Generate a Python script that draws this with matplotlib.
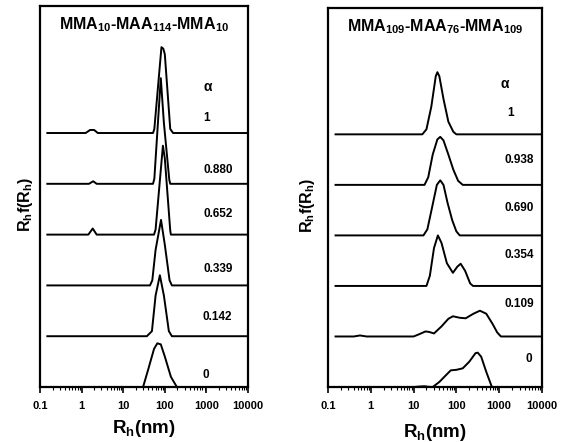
import numpy as np
import matplotlib as mpl
mpl.use('Agg')
import matplotlib.pyplot as plt
from matplotlib.ticker import LogLocator, NullFormatter, FixedFormatter, FixedLocator

plt.rcParams['font.family'] = ['Liberation Sans', 'DejaVu Sans']
plt.rcParams['font.weight'] = 'bold'
plt.rcParams['mathtext.fontset'] = 'custom'
plt.rcParams['mathtext.rm'] = 'Liberation Sans:bold'
plt.rcParams['mathtext.it'] = 'Liberation Sans:bold'
plt.rcParams['mathtext.bf'] = 'Liberation Sans:bold'

# --- left block copolymer: MMA10-MAA114-MMA10 ---
left_alpha = ['1', '0.880', '0.652', '0.339', '0.142', '0']
left_rh = [
    [0.15, 1.25, 1.6, 2.0, 2.45, 52, 56, 83, 92, 100, 135, 158, 10000],
    [0.15, 1.5, 1.9, 2.3, 52, 56, 80, 95, 128, 135, 10000],
    [0.15, 1.45, 1.85, 2.3, 55, 60, 90, 100, 135, 140, 10000],
    [0.15, 44, 50, 60, 81, 100, 130, 148, 10000],
    [0.15, 37, 49, 60, 76, 95, 125, 148, 10000],
    [30, 40, 55, 66, 80, 100, 140, 195],
]
left_f = [
    [0, 0, 0.06, 0.06, 0, 0, 0.08, 1.69, 1.66, 1.55, 0.08, 0, 0],
    [0, 0, 0.05, 0, 0, 0.1, 2.08, 1.2, 0.08, 0, 0],
    [0, 0, 0.12, 0, 0, 0.1, 1.75, 1.5, 0.08, 0, 0],
    [0, 0, 0.1, 0.7, 1.29, 0.8, 0.1, 0, 0],
    [0, 0, 0.1, 0.8, 1.2, 0.8, 0.1, 0, 0],
    [0, 0.35, 0.75, 0.86, 0.84, 0.6, 0.2, 0],
]

# --- right block copolymer: MMA109-MAA76-MMA109 ---
right_alpha = ['1', '0.938', '0.690', '0.354', '0.109', '0']
right_rh = [
    [0.15, 16, 20, 26, 33, 36, 40, 50, 65, 85, 100, 10000],
    [0.15, 18, 22, 28, 36, 42, 50, 65, 85, 110, 141, 10000],
    [0.15, 17, 21, 27, 35, 42, 50, 62, 80, 100, 120, 10000],
    [0.15, 20, 24, 30, 37, 45, 60, 83, 105, 126, 160, 210, 245, 10000],
    [0.15, 0.4, 0.56, 0.8, 10, 14, 19, 23, 30, 45, 65, 83, 120, 165, 250,
     355, 500, 700, 900, 1100, 10000],
    [10, 14, 18, 22, 28, 40, 55, 74, 100, 141, 200, 280, 316, 380, 500, 676],
]
right_f = [
    [0, 0, 0.1, 0.55, 1.15, 1.23, 1.15, 0.7, 0.25, 0.05, 0, 0],
    [0, 0, 0.15, 0.6, 0.9, 0.95, 0.88, 0.6, 0.3, 0.08, 0, 0],
    [0, 0, 0.12, 0.55, 1.0, 1.09, 1.0, 0.65, 0.3, 0.08, 0, 0],
    [0, 0, 0.2, 0.75, 1.0, 0.85, 0.45, 0.26, 0.38, 0.44, 0.3, 0.05, 0, 0],
    [0, 0, 0.02, 0, 0, 0.05, 0.1, 0.09, 0.06, 0.2, 0.35, 0.4, 0.37, 0.36,
     0.45, 0.51, 0.45, 0.25, 0.08, 0, 0],
    [0, 0.01, 0.015, 0.005, 0, 0.1, 0.22, 0.33, 0.34, 0.37, 0.5, 0.67, 0.68,
     0.6, 0.3, 0],
]

xticks = [0.1, 1, 10, 100, 1000, 10000]
xticklabels = ['0.1', '1', '10', '100', '1000', '10000']

fig = plt.figure(figsize=(5.66, 4.42), dpi=100)


def panel(rect, rh_list, f_list, alphas, title, label_x, label_y, alpha_pos):
    ax = fig.add_axes(rect)
    n = len(rh_list)
    for i, (rh, f) in enumerate(zip(rh_list, f_list)):
        offset = n - 1 - i
        ax.plot(rh, np.array(f) + offset, color='black', lw=1.4,
                solid_joinstyle='round', clip_on=False)
    ax.set_xscale('log')
    ax.set_xlim(0.1, 10000)
    ax.set_ylim(0, 7.5)
    ax.xaxis.set_major_locator(FixedLocator(xticks))
    ax.xaxis.set_major_formatter(FixedFormatter(xticklabels))
    ax.xaxis.set_minor_locator(LogLocator(base=10, subs=np.arange(2, 10)))
    ax.xaxis.set_minor_formatter(NullFormatter())
    ax.set_yticks([])
    ax.tick_params(axis='x', which='major', direction='out', length=4,
                   width=1.2, labelsize=8, pad=6)
    ax.tick_params(axis='x', which='minor', direction='out', length=2,
                   width=0.8)
    for s in ax.spines.values():
        s.set_linewidth(1.6)
    ax.text(0.5, 0.95, title, transform=ax.transAxes, ha='center',
            va='center', fontsize=11.5, fontweight='bold')
    ax.set_xlabel('R$_h$(nm)', fontsize=13.5, fontweight='bold')
    ax.xaxis.set_label_coords(0.5, label_x)
    ax.set_ylabel('R$_h$f(R$_h$)', fontsize=11.5, fontweight='bold')
    ax.yaxis.set_label_coords(label_y, 0.48)
    ax.text(alpha_pos[0][0], alpha_pos[0][1], '\u03b1', transform=ax.transAxes,
            ha='left', va='center', fontsize=10, fontweight='bold')
    for (x, y), a in zip(alpha_pos[1:], alphas):
        ax.text(x, y, a, transform=ax.transAxes, ha='left', va='center',
                fontsize=8.5, fontweight='bold')
    return ax


# label positions (axes fraction)
left_pos = [(0.785, 0.787), (0.786, 0.706), (0.784, 0.570), (0.784, 0.454),
            (0.784, 0.310), (0.779, 0.184), (0.779, 0.031)]
right_pos = [(0.808, 0.799), (0.836, 0.723), (0.823, 0.599), (0.823, 0.472),
             (0.823, 0.348), (0.823, 0.219), (0.921, 0.074)]

panel([0.0707, 0.1244, 0.3675, 0.862], left_rh, left_f, left_alpha,
      'MMA$_{10}$-MAA$_{114}$-MMA$_{10}$', -0.082, -0.024, left_pos)
panel([0.5795, 0.1244, 0.378, 0.8575], right_rh, right_f, right_alpha,
      'MMA$_{109}$-MAA$_{76}$-MMA$_{109}$', -0.093, -0.05, right_pos)

fig.savefig('out.png', dpi=100)
